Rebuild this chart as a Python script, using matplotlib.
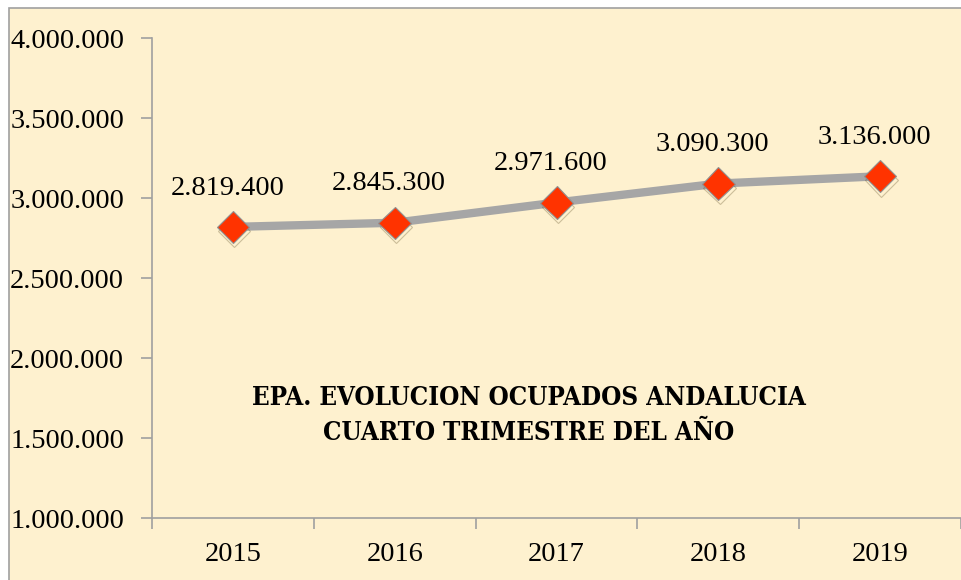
import matplotlib.pyplot as plt
import matplotlib.patheffects as pe
from matplotlib.patches import Rectangle
from matplotlib.ticker import FixedLocator, FuncFormatter

years = ["2015", "2016", "2017", "2018", "2019"]
ocupados = [2819400, 2845300, 2971600, 3090300, 3136000]
y_ticks = [1000000, 1500000, 2000000, 2500000, 3000000, 3500000, 4000000]

def miles(v, pos=None):
    return "{:,.0f}".format(v).replace(",", ".")

fuente = ["Liberation Serif", "DejaVu Serif"]
crema = "#fef1cf"
gris = "#a0a0a0"

fig = plt.figure(figsize=(9.62, 5.8), dpi=100)
fig.patch.set_facecolor("white")
fig.patches.append(Rectangle((9/962, -0.01), 1.0, 1 - 8/580 + 0.01, transform=fig.transFigure,
                             facecolor=crema, edgecolor=gris, linewidth=1.2, zorder=-10))

ax = fig.add_axes([152/962, 62/580, 809/962, 480/580])
ax.set_zorder(5)
ax.set_facecolor("none")
x = list(range(len(years)))

ax.plot(x, ocupados, color="#a6a6a6", lw=6, solid_capstyle="butt", zorder=2)
ax.plot(x, ocupados, ls="none", marker="D", ms=16.5, mfc="#ff3300", mec="#909090", mew=0.8, zorder=3,
        path_effects=[pe.SimpleLineShadow(offset=(1, -3), alpha=0.3, shadow_color="#5a4a20"), pe.Normal()])

for xi, v in zip(x, ocupados):
    ax.annotate(miles(v), (xi, v), xytext=(-4, 19), textcoords="offset points", ha="center", va="bottom",
                fontsize=20.5, family=fuente, color="black")

ax.set_xlim(-0.5, len(years) - 0.5)
ax.set_ylim(1000000, 4000000)
ax.yaxis.set_major_locator(FixedLocator(y_ticks))
ax.yaxis.set_major_formatter(FuncFormatter(miles))
ax.set_xticks(x)
ax.set_xticklabels(years)
ax.xaxis.set_minor_locator(FixedLocator([i - 0.5 for i in range(len(years) + 1)]))
ax.tick_params(axis="x", which="major", length=0, pad=17, labelsize=20.5)
ax.tick_params(axis="x", which="minor", length=8, color=gris, width=1.2)
ax.tick_params(axis="y", length=8, color=gris, width=1.2, pad=12, labelsize=20.5)
for lab in ax.get_xticklabels() + ax.get_yticklabels():
    lab.set_family(fuente)

for s in ["top", "right"]:
    ax.spines[s].set_visible(False)
for s in ["left", "bottom"]:
    ax.spines[s].set_color(gris)
    ax.spines[s].set_linewidth(1.2)

ax.text(0.466, 0.215, "EPA. EVOLUCION OCUPADOS ANDALUCIA\nCUARTO TRIMESTRE DEL AÑO",
        transform=ax.transAxes, ha="center", va="center", fontsize=18.5, fontweight="bold",
        family="DejaVu Serif", fontstretch="condensed", linespacing=1.5, color="black")

fig.savefig("out.png", dpi=100)
